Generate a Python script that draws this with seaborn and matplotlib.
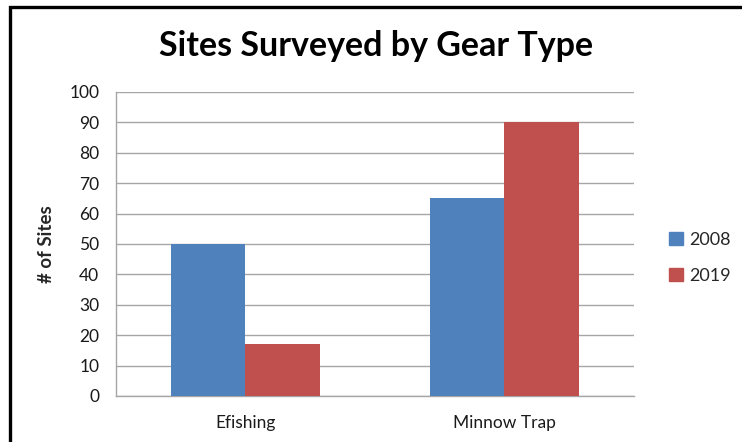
import matplotlib
matplotlib.use("Agg")
import matplotlib.pyplot as plt
from matplotlib.patches import Rectangle
import seaborn as sns
import pandas as pd

# Survey counts by gear type and year
gear_types = ["Efishing", "Minnow Trap"]
years = ["2008", "2019"]
sites_2008 = [50, 65]
sites_2019 = [17, 90]
y_ticks = [0, 10, 20, 30, 40, 50, 60, 70, 80, 90, 100]

df = pd.DataFrame({
    "Gear": gear_types * 2,
    "Year": [years[0]] * len(gear_types) + [years[1]] * len(gear_types),
    "Sites": sites_2008 + sites_2019,
})

sns.set_theme(style="white")
plt.rcParams["font.family"] = ["Lato", "DejaVu Sans"]

W, H = 742, 442
fig = plt.figure(figsize=(W / 100, H / 100), dpi=100)
fig.patch.set_facecolor("white")

# Chart frame
fig.patches.append(Rectangle((10 / W, -0.05), 1.2, 1.05 - 7 / H,
                             transform=fig.transFigure, fill=False,
                             edgecolor="black", linewidth=2.4, clip_on=False))

ax = fig.add_axes([116 / W, (H - 396) / H, 518 / W, 304 / H])
palette = {"2008": "#4F81BD", "2019": "#C0504D"}
sns.barplot(data=df, x="Gear", y="Sites", hue="Year", hue_order=years,
            order=gear_types, palette=palette, width=0.572, saturation=1,
            edgecolor="none", linewidth=0, ax=ax, zorder=3)

ax.set_ylim(0, 100)
ax.set_xlim(-0.5, 1.5)
ax.set_yticks(y_ticks)
ax.yaxis.grid(True, color="#A6A6A6", linewidth=1.0, zorder=0)
ax.set_axisbelow(True)

for side in ["top", "right"]:
    ax.spines[side].set_visible(False)
ax.spines["left"].set_color("#A6A6A6")
ax.spines["bottom"].set_color("#A6A6A6")
ax.spines["left"].set_linewidth(1.0)
ax.spines["bottom"].set_linewidth(1.0)

ax.tick_params(axis="y", which="major", direction="out", length=5,
               color="#A6A6A6", width=1.0, labelsize=12.5, labelcolor="#1a1a1a", pad=7)
ax.set_xticks([-0.5, 0.5, 1.5], minor=True)
ax.tick_params(axis="x", which="minor", direction="out", length=6,
               color="#A6A6A6", width=1.0)
ax.tick_params(axis="x", which="major", length=0, labelsize=12.5,
               labelcolor="#1a1a1a", pad=14)

ax.set_xlabel("")
ax.set_ylabel("# of Sites", fontsize=13.5, fontweight="bold", labelpad=10)

ax.legend_.remove()
handles = [Rectangle((0, 0), 1, 1, color=palette[y]) for y in years]
fig.legend(handles, years, loc="center left", bbox_to_anchor=(662 / W, 1 - 258 / H),
           frameon=False, fontsize=13, handlelength=0.75, handleheight=0.75,
           handletextpad=0.35, labelspacing=1.1, borderaxespad=0)

fig.text(376 / W, 1 - 46 / H, "Sites Surveyed by Gear Type", ha="center", va="center",
         fontsize=24.5, fontweight="bold", color="black")

fig.savefig("out.png", dpi=100, facecolor="white")
